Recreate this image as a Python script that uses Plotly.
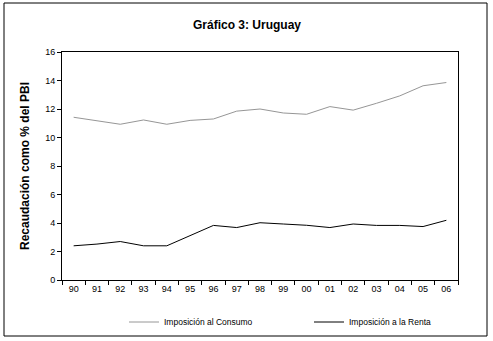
import plotly.graph_objects as go

years = ["90", "91", "92", "93", "94", "95", "96", "97", "98", "99",
         "00", "01", "02", "03", "04", "05", "06"]
consumo = [11.42, 11.2, 10.93, 11.23, 10.93, 11.2, 11.3, 11.85, 12.0, 11.72,
           11.63, 12.17, 11.92, 12.4, 12.92, 13.63, 13.86]
renta = [2.4, 2.52, 2.7, 2.4, 2.4, 3.1, 3.83, 3.68, 4.02, 3.93,
         3.84, 3.68, 3.93, 3.83, 3.83, 3.75, 4.19]
y_ticks = [0, 2, 4, 6, 8, 10, 12, 14, 16]

W, H = 493, 341
L, R, T, B = 62, 35, 52, 61
pw, ph = W - L - R, H - T - B

def px(p):
    return (p - L) / pw

def py(p):
    return (H - B - p) / ph

fig = go.Figure()
fig.add_trace(go.Scatter(x=years, y=consumo, mode="lines", name="Imposición al Consumo",
                         line=dict(color="#969696", width=1)))
fig.add_trace(go.Scatter(x=years, y=renta, mode="lines", name="Imposición a la Renta",
                         line=dict(color="#000000", width=1)))

fig.update_layout(
    width=W, height=H,
    margin=dict(l=L, r=R, t=T, b=B, autoexpand=False),
    paper_bgcolor="white", plot_bgcolor="white",
    font=dict(family="Liberation Sans, Arial, sans-serif", color="black", size=9),
    title=dict(text="<b>Gráfico 3: Uruguay</b>", x=px(247), xanchor="center",
               xref="paper",
               y=1 - 25 / H, yanchor="middle", font=dict(size=12)),
    showlegend=True,
    legend=dict(orientation="h", x=px(309), xanchor="center", y=py(322), yanchor="middle",
                font=dict(size=8.5), bgcolor="rgba(0,0,0,0)", itemwidth=30,
                entrywidth=140, entrywidthmode="pixels",
                tracegroupgap=0),
    xaxis=dict(type="category", range=[-0.5, len(years) - 0.5], showgrid=False,
               showline=True, linecolor="black",
               linewidth=1, mirror=True, ticks="outside", ticklen=4, tickcolor="black",
               tickson="boundaries", tickfont=dict(size=9), zeroline=False),
    yaxis=dict(range=[0, 16], tickvals=y_ticks, showgrid=False, showline=True,
               linecolor="black", linewidth=1, mirror=True, ticks="outside", ticklen=4,
               tickcolor="black", tickfont=dict(size=9), zeroline=False,
               title=dict(text="<b>Recaudación como % del PBI</b>", font=dict(size=12),
                          standoff=12)),
    shapes=[dict(type="rect", xref="paper", yref="paper",
                 x0=px(4), x1=px(487), y0=py(336), y1=py(3),
                 line=dict(color="black", width=1), fillcolor="rgba(0,0,0,0)",
                 layer="below")],
)

fig.write_html("out.html", config={"displayModeBar": False},
               post_script="document.body.style.margin='0';")
